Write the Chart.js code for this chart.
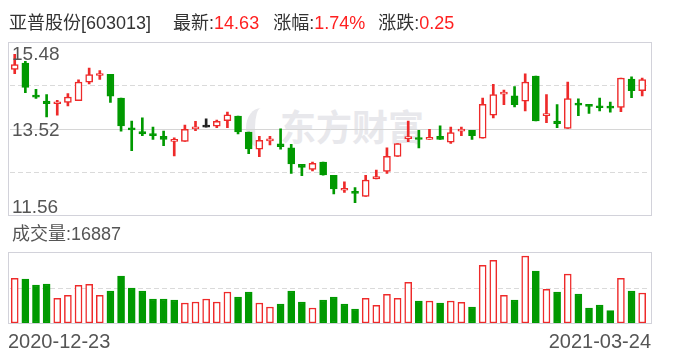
<!DOCTYPE html>
<html>
<head>
<meta charset="utf-8">
<script src="https://cdn.jsdelivr.net/npm/chart.js@4.4.0/dist/chart.umd.min.js"></script>
<style>
  body { margin: 0; background: #fff; }
  #wrap { position: relative; width: 688px; height: 360px; overflow: hidden;
          font-family: "Liberation Sans", Arial, "Noto Sans CJK SC", sans-serif; }
  canvas { position: absolute; left: 0; top: 0; }
  #title { position: absolute; left: 9px; top: 13px; font-size: 18px; line-height: 20px; color: #333; white-space: nowrap; }
  #title .v { color: #ff2020; }
  #title .g1 { margin-left: 22px; }
  #title .g2 { margin-left: 14px; }
  #title .g3 { margin-left: 13px; }
  #mark { position: absolute; left: 280px; top: 105px; font-size: 36px; line-height: 40px; font-weight: bold;
          color: #e8e8ec; font-family: "Noto Sans CJK SC", sans-serif; }
  #logo { position: absolute; left: 246px; top: 108px; width: 30px; height: 40px; border-radius: 50%;
          border-left: 9px solid #e8e8ec; box-sizing: border-box; }
</style>
</head>
<body>
<div id="wrap">
  <div id="logo"></div>
  <div id="mark">东方财富</div>
  <canvas id="kline" width="688" height="360"></canvas>
  <canvas id="vol" width="688" height="360"></canvas>
  <div id="title">亚普股份[603013]<span class="g1">最新:</span><span class="v" id="last"></span><span class="g2">涨幅:</span><span class="v" id="pct"></span><span class="g3">涨跌:</span><span class="v" id="chg"></span></div>
</div>
<script>
// 60 trading days, 2020-12-23 .. 2021-03-24
const dates = [
  "2020-12-23","2020-12-24","2020-12-25","2020-12-28","2020-12-29","2020-12-30","2020-12-31",
  "2021-01-04","2021-01-05","2021-01-06","2021-01-07","2021-01-08",
  "2021-01-11","2021-01-12","2021-01-13","2021-01-14","2021-01-15",
  "2021-01-18","2021-01-19","2021-01-20","2021-01-21","2021-01-22",
  "2021-01-25","2021-01-26","2021-01-27","2021-01-28","2021-01-29",
  "2021-02-01","2021-02-02","2021-02-03","2021-02-04","2021-02-05",
  "2021-02-08","2021-02-09","2021-02-10","2021-02-18","2021-02-19",
  "2021-02-22","2021-02-23","2021-02-24","2021-02-25","2021-02-26",
  "2021-03-01","2021-03-02","2021-03-03","2021-03-04","2021-03-05",
  "2021-03-08","2021-03-09","2021-03-10","2021-03-11","2021-03-12",
  "2021-03-15","2021-03-16","2021-03-17","2021-03-18","2021-03-19",
  "2021-03-22","2021-03-23","2021-03-24"
];
const open = [14.86,15.00,14.27,14.14,14.08,14.11,14.15,14.57,14.72,14.75,
              14.21,13.52,13.45,13.40,13.34,13.23,13.23,13.51,13.55,13.57,
              13.70,13.80,13.44,13.05,13.24,13.17,13.08,12.71,12.59,12.76,
              12.46,12.12,12.08,11.98,12.38,12.55,12.89,13.29,13.28,13.27,
              13.34,13.21,13.46,13.48,13.30,13.82,14.30,14.26,14.14,14.71,
              13.81,13.69,13.52,14.06,14.04,14.01,13.99,14.00,14.64,14.38];
const close = [14.97,14.45,14.23,14.08,14.10,14.23,14.57,14.74,14.75,14.25,
               13.58,13.49,13.40,13.36,13.27,13.25,13.50,13.54,13.55,13.68,
               13.83,13.44,13.06,13.25,13.28,13.11,12.72,12.64,12.73,12.47,
               12.15,12.14,12.05,12.35,12.43,12.89,13.18,13.32,13.27,13.32,
               13.27,13.43,13.50,13.36,14.07,14.29,14.33,14.06,14.57,13.69,
               13.83,13.63,14.20,14.05,14.02,13.99,13.98,14.66,14.38,14.63];
const high = [15.20,15.04,14.41,14.29,14.16,14.31,14.62,14.89,14.83,14.75,
              14.21,13.69,13.76,13.55,13.46,13.31,13.60,13.68,13.74,13.71,
              13.89,13.80,13.44,13.34,13.34,13.51,13.16,12.71,12.76,12.76,
              12.46,12.31,12.18,12.46,12.58,13.08,13.18,13.69,13.48,13.50,
              13.58,13.55,13.55,13.48,14.21,14.52,14.39,14.47,14.76,14.71,
              14.29,14.06,14.57,14.19,14.05,14.21,14.12,14.66,14.69,14.66];
const low = [14.76,14.33,14.20,13.78,13.82,14.03,14.15,14.53,14.63,14.11,
             13.46,13.02,13.36,13.27,13.13,12.90,13.23,13.47,13.55,13.54,
             13.54,13.40,12.95,12.88,13.15,13.05,12.50,12.45,12.56,12.46,
             12.04,12.07,11.84,11.98,12.38,12.50,12.89,13.22,13.08,13.27,
             13.27,13.18,13.36,13.27,13.30,13.76,14.06,14.01,13.92,13.69,
             13.65,13.54,13.52,13.81,13.86,13.92,13.89,13.90,14.22,14.26];
const volume = [25140,24760,21390,21950,13880,15570,21200,21760,15570,18010,
                26450,19700,18010,13510,13510,12940,11260,11820,13510,11820,
                17450,14630,17450,11260,9000,10690,18010,11820,8440,12940,
                14630,10690,7880,13880,9940,16130,13880,22890,12380,12380,
                11260,12380,11630,9000,32450,35270,15570,12940,37710,29270,
                18950,17450,27580,16320,8440,10130,6940,25140,18010,16887];
const priceTicks = [11.56, 12.54, 13.52, 14.50, 15.48];
const volumeMax = 40000;

const UP = '#ee2a2a', DOWN = '#009900', FLAT = '#222222';
const candleColor = i => close[i] > open[i] ? UP : (close[i] < open[i] ? DOWN : FLAT);
const volColor = i => close[i] >= (i ? close[i - 1] : open[i]) ? UP : DOWN;

// header numbers
const last = close[close.length - 1], prev = close[close.length - 2];
document.getElementById('last').textContent = last.toFixed(2);
document.getElementById('chg').textContent = (last - prev).toFixed(2);
document.getElementById('pct').textContent = ((last - prev) / prev * 100).toFixed(2) + '%';

const BOX_L = 8, BOX_R = 651;
const PAD = { left: 9.4, right: 40.5 };

// box + grid lines drawn behind the marks
const frame = {
  id: 'frame',
  beforeDatasetsDraw(chart, args, opts) {
    const { ctx, chartArea: a, scales: { y } } = chart;
    ctx.save();
    ctx.lineWidth = 1;
    opts.lines.forEach(l => {
      const py = Math.round(y.getPixelForValue(l.v)) + 0.5;
      ctx.strokeStyle = l.dash ? '#dadada' : '#d6d6d6';
      ctx.setLineDash(l.dash ? [5, 3] : []);
      ctx.beginPath();
      ctx.moveTo(BOX_L + 2, py);
      ctx.lineTo(l.dash ? BOX_R - 4 : BOX_R, py);
      ctx.stroke();
    });
    ctx.setLineDash([]);
    ctx.strokeStyle = '#d2d2da';
    ctx.strokeRect(BOX_L + 0.5, Math.round(a.top) + 0.5, BOX_R - BOX_L, Math.round(a.bottom - a.top));
    ctx.restore();
  }
};

const texts = {
  id: 'texts',
  afterDraw(chart, args, opts) {
    const { ctx } = chart;
    ctx.save();
    ctx.fillStyle = '#555';
    opts.items.forEach(t => {
      ctx.font = t.font;
      ctx.textAlign = t.align || 'left';
      ctx.textBaseline = 'alphabetic';
      const y = t.v !== undefined ? chart.scales.y.getPixelForValue(t.v) + t.dy : t.y;
      ctx.fillText(t.text, t.x, y);
    });
    ctx.restore();
  }
};

const NUM = '19px "Liberation Sans", Arial, sans-serif';

new Chart(document.getElementById('kline'), {
  type: 'bar',
  data: {
    labels: dates,
    datasets: [
      {
        label: 'body',
        data: dates.map((d, i) => [open[i], close[i]]),
        backgroundColor: dates.map((d, i) => close[i] > open[i] ? '#ffffff' : candleColor(i)),
        borderColor: dates.map((d, i) => candleColor(i)),
        borderWidth: 1.5,
        borderSkipped: false,
        barThickness: 7,
        minBarLength: 2,
        grouped: false,
        order: 0
      },
      {
        label: 'wick',
        data: dates.map((d, i) => [low[i], high[i]]),
        backgroundColor: dates.map((d, i) => candleColor(i)),
        borderWidth: 0,
        barThickness: 2,
        grouped: false,
        order: 1
      }
    ]
  },
  options: {
    responsive: false,
    animation: false,
    layout: { padding: { left: PAD.left, right: PAD.right, top: 42, bottom: 145 } },
    scales: {
      x: { display: false, offset: true },
      y: { display: false, min: priceTicks[0], max: priceTicks[priceTicks.length - 1] }
    },
    plugins: {
      legend: { display: false },
      tooltip: { enabled: false },
      frame: { lines: [
        { v: priceTicks[1], dash: true },
        { v: priceTicks[2], dash: false },
        { v: priceTicks[3], dash: true }
      ] },
      texts: { items: [
        { text: priceTicks[4].toFixed(2), x: 12, v: priceTicks[4], dy: 18, font: NUM },
        { text: priceTicks[2].toFixed(2), x: 12, v: priceTicks[2], dy: 7.5, font: NUM },
        { text: priceTicks[0].toFixed(2), x: 12, v: priceTicks[0], dy: -2, font: NUM }
      ] }
    }
  },
  plugins: [frame, texts]
});

new Chart(document.getElementById('vol'), {
  type: 'bar',
  data: {
    labels: dates,
    datasets: [{
      label: 'volume',
      data: volume,
      backgroundColor: dates.map((d, i) => volColor(i) === UP ? '#ffffff' : DOWN),
      borderColor: dates.map((d, i) => volColor(i)),
      borderWidth: 1.5,
      borderSkipped: false,
      barThickness: 7
    }]
  },
  options: {
    responsive: false,
    animation: false,
    layout: { padding: { left: PAD.left, right: PAD.right, top: 252, bottom: 37 } },
    scales: {
      x: { display: false, offset: true },
      y: { display: false, min: 0, max: volumeMax }
    },
    plugins: {
      legend: { display: false },
      tooltip: { enabled: false },
      frame: { lines: [{ v: volumeMax / 2, dash: true }] },
      texts: { items: [
        { text: '成交量:' + volume[volume.length - 1], x: 12, y: 240,
          font: '18px "Liberation Sans", Arial, "Noto Sans CJK SC", sans-serif' },
        { text: dates[0], x: 8, y: 348, font: '20px "Liberation Sans", Arial, sans-serif' },
        { text: dates[dates.length - 1], x: 651, y: 348, align: 'right',
          font: '20px "Liberation Sans", Arial, sans-serif' }
      ] }
    }
  },
  plugins: [frame, texts]
});
</script>
</body>
</html>
